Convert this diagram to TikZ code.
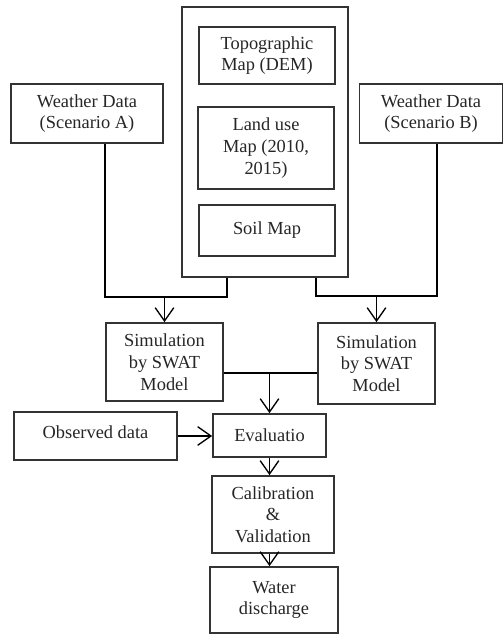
\documentclass[tikz,border=0pt]{standalone}
\usepackage{fontspec}
\setmainfont{Liberation Serif}
\usetikzlibrary{arrows.meta,calc}

\tikzset{every picture/.style={line width=1pt}}
\tikzset{
  box/.style={draw=black!80, line width=1.3pt, align=center, inner sep=0pt, text=black!85, font=\fontsize{13.8}{16.3}\selectfont},
  flow/.style={-{Straight Barb[length=10pt,width=14pt,line width=1pt]}}
}

\begin{document}
\begin{tikzpicture}[x=0.75pt,y=0.75pt,yscale=-1,xscale=1]
	\useasboundingbox (0,0) rectangle (503,634);

	%Shape: Rectangle [outer]
	\node [box, minimum width=124.5pt, minimum height=202.5pt] (outer) at (265,142) {};
	%Shape: Rectangle [topo]
	\node [box, minimum width=102pt, minimum height=42.75pt] (topo) at (267,55.5) {Topographic\\Map (DEM)};
	%Shape: Rectangle [land]
	\node [box, minimum width=102pt, minimum height=61.5pt] (land) at (266,148) {Land use\\Map (2010,\\2015)};
	%Shape: Rectangle [soil]
	\node [box, minimum width=102pt, minimum height=38.25pt] (soil) at (267,230.5) {Soil Map};

	%Shape: Rectangle [weather A]
	\node [box, minimum width=114pt, minimum height=44.25pt] (wA) at (87,113.5) {Weather Data\\(Scenario A)};
	%Shape: Rectangle [weather B]
	\node [box, minimum width=107.25pt, minimum height=44.25pt] (wB) at (431,113.5) {Weather Data\\(Scenario B)};

	%Shape: Rectangle [simulation A]
	\node [box, minimum width=87.75pt, minimum height=58.5pt] (simA) at (164.5,362) {Simulation\\by SWAT\\Model};
	%Shape: Rectangle [simulation B]
	\node [box, minimum width=87.75pt, minimum height=60.75pt] (simB) at (376.5,363.5) {Simulation\\by SWAT\\Model};

	%Shape: Rectangle [observed]
	\node [box, minimum width=122.25pt, minimum height=36pt] (obs) at (95.5,436) {\raisebox{3pt}[\height][\depth]{Observed data}};
	%Shape: Rectangle [evaluation]
	\node [box, minimum width=84.75pt, minimum height=32.25pt] (eval) at (269.5,435.5) {Evaluatio};
	%Shape: Rectangle [calibration]
	\node [box, minimum width=91.5pt, minimum height=57.75pt] (calib) at (273,514.5) {Calibration\\\&\\Validation};
	%Shape: Rectangle [water]
	\node [box, minimum width=96pt, minimum height=49.5pt] (water) at (274,600) {Water\\discharge};

	%Junction points
	\coordinate (jL) at ($(simA.north)+(0,-25)$);
	\coordinate (jR) at ($(simB.north)+(0,-26)$);
	\coordinate (jM) at ($(simA.east)+(0,11)$);

	%Straight Lines [left branch]
	\draw ($(wA.south)+(18,0)$) |- (jL) -| ($(outer.south)+(-38,0)$);
	\draw [flow] (jL) -- (simA.north);
	%Straight Lines [right branch]
	\draw ($(wB.south)+(6,0)$) |- (jR) -| ($(outer.south)+(51,0)$);
	\draw [flow] (jR) -- (simB.north);
	%Straight Lines [simulations to evaluation]
	\draw (jM) -- (jM -| simB.west);
	\draw [flow] (jM -| eval.north) -- (eval.north);
	%Straight Lines [observed to evaluation]
	\draw [flow] (obs.east) -- (obs.east -| eval.west);
	%Straight Lines [evaluation to calibration]
	\draw [flow] (eval.south) -- (eval.south |- calib.north);
	%Straight Lines [calibration to water]
	\draw [flow] (calib.south -| eval.south) -- (water.north -| eval.south);

\end{tikzpicture}
\end{document}
